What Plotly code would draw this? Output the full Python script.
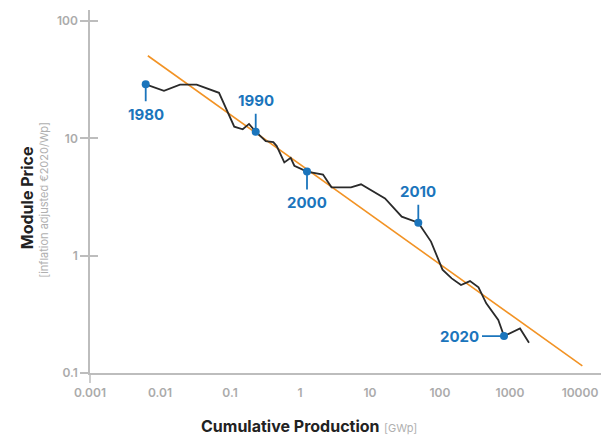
import math
import plotly.graph_objects as go

# Learning curve data
cum_production_gwp = [0.00625, 0.0114, 0.0193, 0.0334, 0.0697, 0.115, 0.152, 0.187, 0.233,
                      0.324, 0.416, 0.465, 0.597, 0.736, 0.830, 1.259, 2.13, 2.82, 5.35,
                      7.44, 16.4, 28.4, 49.0, 74.4, 108.6, 146.9, 199.5, 268.3, 354.8,
                      458, 680, 821, 1390, 1868]
module_price = [28.9, 25.5, 28.7, 28.7, 24.5, 12.6, 11.97, 13.3, 11.4,
                9.5, 9.3, 8.61, 6.25, 6.84, 5.85, 5.22, 4.92, 3.83, 3.83,
                4.06, 3.08, 2.15, 1.91, 1.32, 0.760, 0.641, 0.562, 0.608, 0.538,
                0.393, 0.283, 0.2066, 0.240, 0.181]

trend_x = [0.0067, 10800]
trend_y = [50.7, 0.115]

label_years = ["1980", "1990", "2000", "2010", "2020"]
label_index = [0, 8, 15, 22, 31]

x_tickvals = [0.001, 0.01, 0.1, 1, 10, 100, 1000, 10000]
x_ticktext = ["0.001", "0.01", "0.1", "1", "10", "100", "1000", "10000"]
y_tickvals = [0.1, 1, 10, 100]
y_ticktext = ["0.1", "1", "10", "100"]

BLUE = "#1b75bc"
ORANGE = "#f29325"
LINE = "#2a2a2a"
AXIS = "#bdbdbd"
TICKFONT = dict(family="Inter", size=12, color="#ababab", weight=600)

fig = go.Figure()

fig.add_trace(go.Scatter(x=trend_x, y=trend_y, mode="lines",
                         line=dict(color=ORANGE, width=1.6), hoverinfo="skip"))
fig.add_trace(go.Scatter(x=cum_production_gwp, y=module_price, mode="lines",
                         line=dict(color=LINE, width=1.8)))

lx = [cum_production_gwp[i] for i in label_index]
ly = [module_price[i] for i in label_index]
fig.add_trace(go.Scatter(x=lx, y=ly, mode="markers",
                         marker=dict(color=BLUE, size=8)))

offsets = [(0, 30), (0, -31), (0, 31), (0, -31), (-45, 0)]
for yr, x, y, (ax, ay) in zip(label_years, lx, ly, offsets):
    fig.add_annotation(x=math.log10(x), y=math.log10(y), xref="x", yref="y", text=yr,
                       showarrow=True, arrowhead=0, arrowwidth=1.8, arrowcolor=BLUE,
                       ax=ax, ay=ay, standoff=0, startstandoff=2,
                       font=dict(family="Inter", size=15, color=BLUE, weight=700))

# axis titles
fig.add_annotation(xref="paper", yref="paper", x=-0.123, y=0.482, xanchor="center", yanchor="middle",
                   text="<b>Module Price</b>", textangle=-90, showarrow=False,
                   font=dict(family="Inter", size=16, color="#222222"))
fig.add_annotation(xref="paper", yref="paper", x=-0.090, y=0.477, xanchor="center", yanchor="middle",
                   text="[inflation adjusted €2020/Wp]", textangle=-90, showarrow=False,
                   font=dict(family="Inter", size=11, color="#b0b0b0"))
fig.add_annotation(xref="paper", yref="paper", x=0.4286, y=-0.146, xanchor="center", yanchor="middle",
                   text="<b>Cumulative Production</b> <span style='font-size:11px;color:#b0b0b0'>[GWp]</span>",
                   showarrow=False, font=dict(family="Inter", size=16, color="#222222"))

# extension of y axis line below x axis
fig.add_shape(type="line", xref="paper", yref="paper", x0=0, x1=0, y0=0, y1=-10 / 363,
              line=dict(color=AXIS, width=1.5))

fig.update_layout(
    width=601, height=435,
    margin=dict(l=90, r=0, t=10, b=62),
    paper_bgcolor="white", plot_bgcolor="white",
    showlegend=False,
    xaxis=dict(type="log", range=[-3, 4.3], showgrid=False, zeroline=False,
               showline=True, linecolor=AXIS, linewidth=1.5,
               tickvals=x_tickvals, ticktext=x_ticktext, ticks="",
               ticklabelstandoff=8, tickfont=TICKFONT),
    yaxis=dict(type="log", range=[-1, 2.095], showgrid=False, zeroline=False,
               showline=True, linecolor=AXIS, linewidth=1.5,
               tickvals=y_tickvals, ticktext=y_ticktext, ticks="outside",
               ticklen=8, tickwidth=1.5, tickcolor=AXIS, tickfont=TICKFONT),
    yaxis2=dict(type="log", range=[-1, 2.095], overlaying="y", side="left",
                showgrid=False, zeroline=False, showline=False,
                tickvals=y_tickvals, ticks="inside", ticklen=8, tickwidth=1.5,
                tickcolor=AXIS, showticklabels=False),
)
fig.add_trace(go.Scatter(x=[None], y=[None], yaxis="y2", showlegend=False))

fig.write_html(
    "out.html",
    config={"displayModeBar": False},
    post_script="document.body.style.margin='0';document.body.style.overflow='hidden';",
)
